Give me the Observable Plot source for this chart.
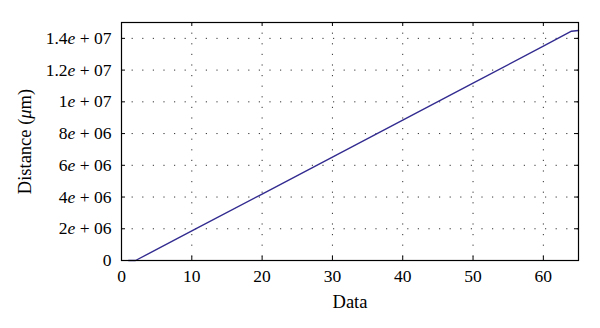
<!DOCTYPE html>
<html>
<head>
<meta charset="utf-8">
<script src="https://cdn.jsdelivr.net/npm/d3@7"></script>
<script src="https://cdn.jsdelivr.net/npm/@observablehq/plot@0.6"></script>
<style>
  html, body { margin: 0; padding: 0; background: #fff; }
  #chart { width: 600px; height: 328px; }
</style>
</head>
<body>
<div id="chart"></div>
<script>
const dataX = [1, 2, 10, 20, 30, 40, 50, 60, 64, 65];
const distance = [0, 0, 1.86e6, 4.19e6, 6.52e6, 8.85e6, 1.118e7, 1.351e7, 1.445e7, 1.45e7];
const xTicks = [0, 10, 20, 30, 40, 50, 60];
const yTicks = [0, 2e6, 4e6, 6e6, 8e6, 1e7, 1.2e7, 1.4e7];
const xLabel = "Data";
const yLabel = "Distance (μm)";

const W = 600, H = 328, mL = 121, mR = 22, mT = 22, mB = 68;
const pw = W - mL - mR, ph = H - mT - mB;
const rows = dataX.map((x, i) => ({x, y: distance[i]}));

function fmt(d) {
  if (d === 0) return "0";
  const e = Math.floor(Math.log10(d) + 1e-9);
  const m = +(d / Math.pow(10, e)).toFixed(2);
  return m + "e + " + String(e).padStart(2, "0");
}

const gridStyle = {stroke: "#333", strokeOpacity: 1, strokeWidth: 1, strokeDasharray: "1.2,9.4"};

const chart = Plot.plot({
  width: W, height: H,
  marginLeft: mL, marginRight: mR, marginTop: mT, marginBottom: mB,
  style: {fontFamily: "'Liberation Serif', serif", fontSize: "17.5px", background: "#fff", color: "#000"},
  x: {domain: [0, 65]},
  y: {domain: [0, 1.5e7]},
  marks: [
    Plot.gridX(xTicks.slice(1), gridStyle),
    Plot.gridY(yTicks.slice(1), gridStyle),
    Plot.tickX(xTicks, {x: d => d, insetTop: ph - 4, stroke: "#000"}),
    Plot.tickX(xTicks, {x: d => d, insetBottom: ph - 4, stroke: "#000"}),
    Plot.tickY(yTicks, {y: d => d, insetRight: pw - 4, stroke: "#000"}),
    Plot.tickY(yTicks, {y: d => d, insetLeft: pw - 4, stroke: "#000"}),
    Plot.line(rows, {x: "x", y: "y", stroke: "#332c90", strokeWidth: 1.4}),
    Plot.frame({stroke: "#000", strokeWidth: 1.2}),
    Plot.axisX(xTicks, {tickSize: 0, tickPadding: 9.5, label: xLabel, labelAnchor: "center", labelOffset: 47, fontSize: 17.5}),
    Plot.axisY(yTicks, {tickSize: 0, tickPadding: 10, tickFormat: fmt, label: yLabel, labelAnchor: "center", labelOffset: 104, fontSize: 17.5})
  ]
});
document.getElementById("chart").appendChild(chart);

const NS = "http://www.w3.org/2000/svg";
function ts(txt, italic) {
  const t = document.createElementNS(NS, "tspan");
  t.textContent = txt;
  if (italic) t.setAttribute("font-style", "italic");
  return t;
}
// remove label arrows, italic "e" in tick labels and italic μ in y label
chart.querySelectorAll("text").forEach(t => {
  let s = t.textContent.replace(/\s*[→↑←↓]\s*/g, "").trim();
  if (/^[\d.]+e \+ \d+$/.test(s)) {
    const [a, b] = s.split("e");
    t.textContent = "";
    t.append(ts(a), ts("e", true), ts(b));
  } else if (s.includes("μ")) {
    const [a, b] = s.split("μ");
    t.textContent = "";
    t.append(ts(a), ts("μ", true), ts(b));
    t.style.fontSize = "18.5px";
  } else if (s === xLabel) {
    t.textContent = s;
    t.style.fontSize = "18.5px";
  }
});
</script>
</body>
</html>
